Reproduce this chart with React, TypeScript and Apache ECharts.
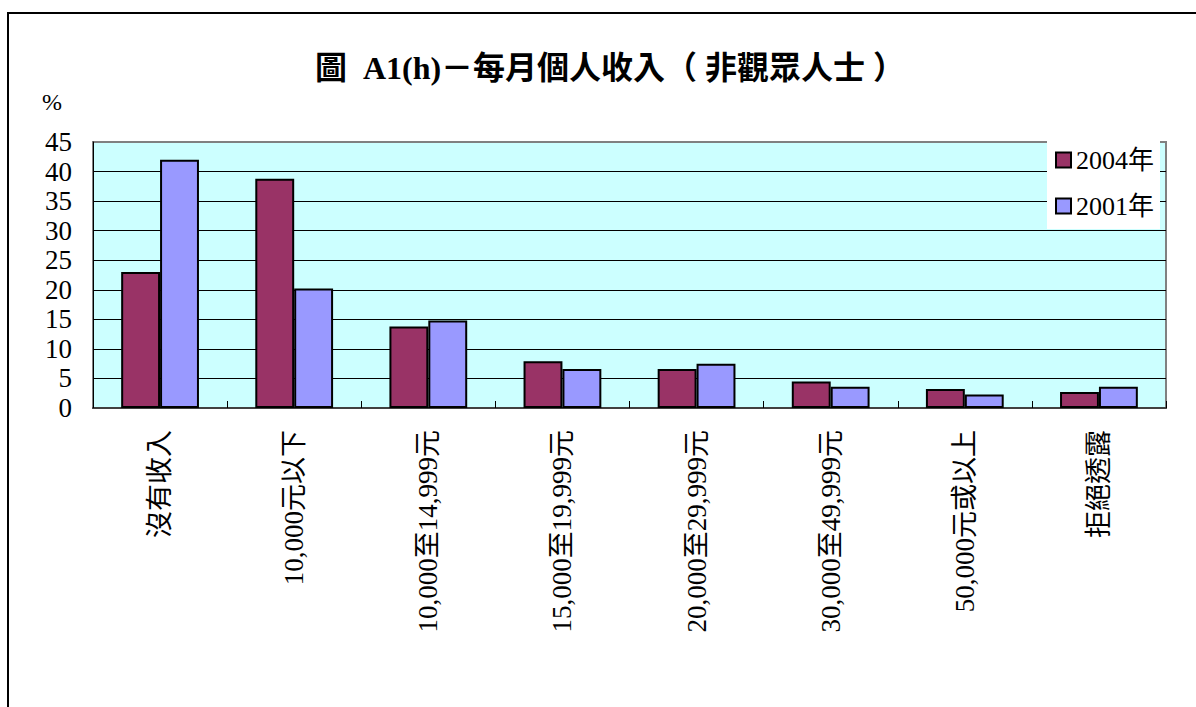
import React, { useEffect, useRef } from "react";
import * as echarts from "echarts";

const categories = [
  "沒有收入",
  "10,000元以下",
  "10,000至14,999元",
  "15,000至19,999元",
  "20,000至29,999元",
  "30,000至49,999元",
  "50,000元或以上",
  "拒絕透露",
];
const series2004 = [23.0, 38.8, 13.8, 7.9, 6.6, 4.5, 3.2, 2.7];
const series2001 = [42.0, 20.2, 14.8, 6.6, 7.5, 3.6, 2.3, 3.6];
const seriesNames = ["2004年", "2001年"];
const titleText = "圖  A1(h)－每月個人收入（ 非觀眾人士 ）";

const SERIF = "Liberation Serif, Noto Sans CJK TC, serif";

export default function App() {
  const ref = useRef<HTMLDivElement>(null);
  useEffect(() => {
    if (!ref.current) return;
    const chart = echarts.init(ref.current, null, { renderer: "svg" });
    chart.setOption({
      animation: false,
      backgroundColor: "#ffffff",
      title: {
        text: titleText,
        left: 605,
        textAlign: "center",
        top: 47,
        textStyle: {
          fontFamily: SERIF,
          fontWeight: "bold",
          fontSize: 32,
          color: "#000",
        },
      },
      graphic: [
        {
          type: "rect",
          shape: { x: 8, y: 13, width: 1300, height: 800 },
          style: { fill: "none", stroke: "#000", lineWidth: 2 },
          silent: true,
        },
        {
          type: "text",
          x: 42,
          y: 90,
          style: { text: "%", font: `24px ${SERIF}`, fill: "#000" },
        },
      ],
      legend: {
        data: seriesNames,
        orient: "vertical",
        left: 1047,
        top: 137,
        padding: [10, 6, 10, 8],
        itemGap: 20,
        itemWidth: 15,
        itemHeight: 15,
        icon: "rect",
        backgroundColor: "#ffffff",
        textStyle: { fontFamily: SERIF, fontSize: 26, color: "#000" },
        z: 10,
      },
      grid: {
        left: 93,
        top: 142,
        width: 1073,
        height: 266,
        show: true,
        backgroundColor: "#CCFFFF",
        borderColor: "#808080",
        borderWidth: 2,
        containLabel: false,
      },
      xAxis: {
        type: "category",
        data: categories,
        axisLine: { lineStyle: { color: "#404040", width: 2 } },
        axisTick: { show: true, inside: true, length: 7, lineStyle: { color: "#000" } },
        axisLabel: {
          rotate: 90,
          margin: 22,
          fontSize: 27,
          fontFamily: SERIF,
          color: "#000",
        },
      },
      yAxis: {
        type: "value",
        min: 0,
        max: 45,
        interval: 5,
        axisLine: { show: true, lineStyle: { color: "#000", width: 1 } },
        axisTick: { show: false },
        axisLabel: {
          margin: 21,
          fontSize: 27,
          fontFamily: SERIF,
          color: "#000",
        },
        splitLine: {
          show: true,
          lineStyle: {
            color: ["#000", "#000", "#000", "#000", "#000", "#000", "#000", "#000", "#000", "#808080"],
            width: 1,
          },
        },
      },
      series: [
        {
          name: seriesNames[0],
          type: "bar",
          data: series2004,
          barGap: "0%",
          barCategoryGap: "42%",
          itemStyle: { color: "#993366", borderColor: "#000", borderWidth: 2 },
        },
        {
          name: seriesNames[1],
          type: "bar",
          data: series2001,
          itemStyle: { color: "#9999FF", borderColor: "#000", borderWidth: 2 },
        },
      ],
    });
    return () => chart.dispose();
  }, []);
  return (
    <div
      ref={ref}
      style={{ position: "absolute", left: 0, top: 0, width: 1196, height: 707 }}
    />
  );
}
